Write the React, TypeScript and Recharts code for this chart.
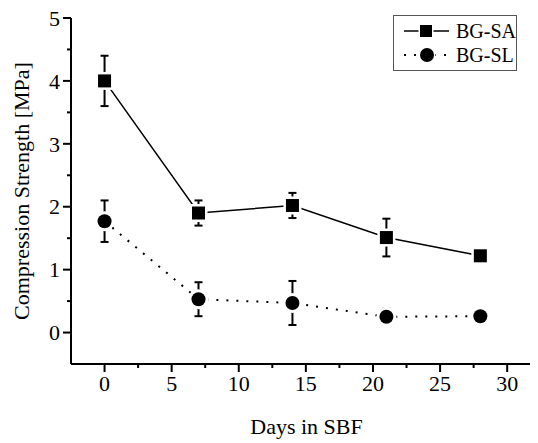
import { ComposedChart, Line, XAxis, YAxis, ErrorBar } from "recharts";

const days = [0, 7, 14, 21, 28];
const bgSa = [4.0, 1.9, 2.02, 1.51, 1.22];
const bgSaErr = [0.4, 0.2, 0.2, 0.3, 0.05];
const bgSl = [1.77, 0.53, 0.47, 0.25, 0.26];
const bgSlErr = [0.33, 0.27, 0.35, 0.13, 0.03];

const xTicks = [0, 2.5, 5, 7.5, 10, 12.5, 15, 17.5, 20, 22.5, 25, 27.5, 30];
const yTicks = [0, 0.5, 1, 1.5, 2, 2.5, 3, 3.5, 4, 4.5, 5];

const data = days.map((d, i) => ({
  day: d,
  sa: bgSa[i],
  saErr: bgSaErr[i],
  sl: bgSl[i],
  slErr: bgSlErr[i],
}));

const FONT = "'Liberation Serif', Tinos, 'Noto Serif', 'Nimbus Roman', 'Nimbus Roman No9 L', FreeSerif, 'DejaVu Serif', serif";

function XTick(props: any) {
  const { x, y, payload } = props;
  const major = payload.value % 5 === 0;
  return (
    <g>
      <line x1={x} y1={y} x2={x} y2={y + (major ? 8 : 4)} stroke="#000" strokeWidth={2} />
      {major && (
        <text x={x} y={y + 19} dy="0.35em" textAnchor="middle" fontSize={22} style={{ fontFamily: FONT }} fill="#000">
          {payload.value}
        </text>
      )}
    </g>
  );
}

function YTick(props: any) {
  const { x, y, payload } = props;
  const major = payload.value % 1 === 0;
  return (
    <g>
      <line x1={x} y1={y} x2={x - (major ? 8 : 4)} y2={y} stroke="#000" strokeWidth={2} />
      {major && (
        <text x={x - 11} y={y} dy="0.35em" textAnchor="end" fontSize={22} style={{ fontFamily: FONT }} fill="#000">
          {payload.value}
        </text>
      )}
    </g>
  );
}

function LegendBox() {
  return (
    <div
      style={{
        position: "absolute",
        left: 393,
        top: 15,
        border: "1px solid #555",
        width: 124,
        height: 56,
        background: "#fff",
        fontFamily: FONT,
        fontSize: 20,
        color: "#000",
        boxSizing: "border-box",
        whiteSpace: "nowrap",
      }}
    >
      <div style={{ display: "flex", alignItems: "center", height: 24, marginTop: 3 }}>
        <svg width={62} height={20}>
          <line x1={10} y1={10} x2={55} y2={10} stroke="#000" strokeWidth={1.5} />
          <rect x={26} y={4} width={12} height={12} fill="#000" stroke="#fff" strokeWidth={3} paintOrder="stroke" />
        </svg>
        <span>BG-SA</span>
      </div>
      <div style={{ display: "flex", alignItems: "center", height: 24 }}>
        <svg width={62} height={20}>
          <line x1={10} y1={10} x2={56} y2={10} stroke="#000" strokeWidth={2} strokeDasharray="2 8" />
          <circle cx={33} cy={10} r={7} fill="#000" stroke="#fff" strokeWidth={3} paintOrder="stroke" />
        </svg>
        <span>BG-SL</span>
      </div>
    </div>
  );
}

export default function App() {
  return (
    <div style={{ position: "absolute", left: 0, top: 0, width: 538, height: 443, background: "#fff" }}>
      <ComposedChart
        width={538}
        height={443}
        data={data}
        margin={{ top: 18, right: 8, bottom: 0, left: 0 }}
      >
        <XAxis
          dataKey="day"
          type="number"
          domain={[-2.5, 31.7]}
          allowDataOverflow
          ticks={xTicks}
          interval={0}
          height={79}
          tickSize={0}
          tickMargin={0}
          tickLine={false}
          axisLine={{ stroke: "#000", strokeWidth: 2 }}
          tick={<XTick />}
          label={{
            content: (p: any) => {
              const vb = p.viewBox;
              return (
                <text x={vb.x + vb.width / 2 + 6} y={vb.y + 62} dy="0.35em" textAnchor="middle" fontSize={22} style={{ fontFamily: FONT }} fill="#000">
                  Days in SBF
                </text>
              );
            },
          }}
        />
        <YAxis
          type="number"
          domain={[-0.5, 5]}
          allowDataOverflow
          ticks={yTicks}
          interval={0}
          width={71}
          tickSize={0}
          tickMargin={0}
          tickLine={false}
          axisLine={{ stroke: "#000", strokeWidth: 2 }}
          tick={<YTick />}
          label={{
            content: (p: any) => {
              const vb = p.viewBox;
              const cy = vb.y + vb.height / 2;
              return (
                <text transform={`translate(21,${cy}) rotate(-90)`} dy="0.35em" textAnchor="middle" fontSize={22} style={{ fontFamily: FONT }} fill="#000">
                  Compression Strength [MPa]
                </text>
              );
            },
          }}
        />
        {/* connecting lines, with white halos to leave gaps at the markers */}
        <Line
          dataKey="sa"
          stroke="#000"
          strokeWidth={1.5}
          isAnimationActive={false}
          activeDot={false}
          dot={(p: any) => <rect key={`sah${p.index}`} x={p.cx - 9} y={p.cy - 9} width={18} height={18} fill="#fff" />}
        />
        <Line
          dataKey="sl"
          stroke="#000"
          strokeWidth={2}
          strokeDasharray="2 8"
          isAnimationActive={false}
          activeDot={false}
          dot={(p: any) => <circle key={`slh${p.index}`} cx={p.cx} cy={p.cy} r={10} fill="#fff" />}
        />
        {/* markers and error bars */}
        <Line
          dataKey="sa"
          stroke="none"
          isAnimationActive={false}
          activeDot={false}
          dot={(p: any) => <rect key={`sa${p.index}`} x={p.cx - 6.5} y={p.cy - 6.5} width={13} height={13} fill="#000" />}
        >
          <ErrorBar dataKey="saErr" width={4} strokeWidth={2} stroke="#000" direction="y" />
        </Line>
        <Line
          dataKey="sl"
          stroke="none"
          isAnimationActive={false}
          activeDot={false}
          dot={(p: any) => <circle key={`sl${p.index}`} cx={p.cx} cy={p.cy} r={7} fill="#000" />}
        >
          <ErrorBar dataKey="slErr" width={4} strokeWidth={2} stroke="#000" direction="y" />
        </Line>
      </ComposedChart>
      <LegendBox />
    </div>
  );
}
